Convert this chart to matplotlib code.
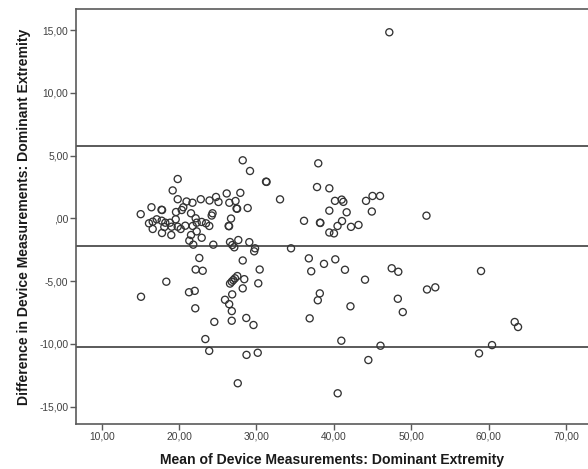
import matplotlib
matplotlib.use("Agg")
import matplotlib.pyplot as plt

plt.rcParams['font.family'] = ['Liberation Sans', 'DejaVu Sans']

# Mean of device measurements (x) and difference (y)
mean_vals = [
    28.22, 29.16, 31.23, 31.30, 19.82, 19.17, 26.15, 27.91, 33.04, 19.82,
    20.96, 21.73, 22.80, 23.93, 24.77, 25.09, 26.49, 27.29, 27.42, 27.50,
    28.86, 16.43, 17.73, 17.80, 15.04, 19.60, 20.34, 20.54, 21.54, 24.32,
    24.21, 26.71, 26.40, 26.46, 16.11, 16.59, 17.11, 17.75, 18.22, 18.82,
    19.56, 19.82, 20.80, 22.14, 22.27, 22.92, 23.48, 23.90, 21.76, 20.21,
    19.04, 18.09, 16.59, 17.79, 18.99, 21.54, 22.27, 22.92, 21.32, 21.83,
    24.42, 26.58, 26.87, 27.13, 27.65, 29.07, 29.81, 29.70, 34.46, 22.61,
    28.22, 22.14, 23.05, 30.41, 18.35, 15.08, 21.28, 22.02, 22.09, 27.52,
    27.22, 27.00, 26.80, 26.58, 28.42, 28.22, 30.23, 26.86, 25.93, 26.47,
    26.81, 24.55, 26.80, 28.68, 29.61, 23.39, 23.89, 28.71, 30.16, 27.58,
    47.16, 37.98, 37.82, 39.41, 40.14, 41.01, 41.22, 44.15, 44.99, 45.96,
    39.41, 41.65, 44.90, 51.96, 36.14, 38.20, 38.25, 41.05, 40.47, 42.21,
    43.18, 39.41, 40.01, 36.76, 37.07, 38.72, 40.18, 41.43, 44.02, 47.47,
    48.32, 59.01, 38.18, 37.92, 42.14, 36.87, 48.26, 48.90, 52.03, 53.10,
    63.36, 63.79, 40.96, 46.02, 44.45, 58.75, 60.43, 40.49,
]
diff_vals = [
    4.62, 3.77, 2.92, 2.90, 3.13, 2.22, 1.98, 2.03, 1.51, 1.52,
    1.34, 1.24, 1.52, 1.42, 1.70, 1.30, 1.24, 1.38, 0.78, 0.76,
    0.82, 0.88, 0.68, 0.66, 0.33, 0.50, 0.66, 0.88, 0.40, 0.40,
    0.22, -0.02, -0.61, -0.63, -0.40, -0.27, -0.08, -0.19, -0.35, -0.35,
    -0.08, -0.67, -0.59, 0.00, -0.35, -0.29, -0.40, -0.61, -0.61, -0.85,
    -0.67, -0.69, -0.85, -1.17, -1.33, -1.33, -1.04, -1.55, -1.78, -2.10,
    -2.10, -1.89, -2.13, -2.31, -1.73, -1.90, -2.39, -2.63, -2.39, -3.16,
    -3.36, -4.08, -4.18, -4.08, -5.05, -6.25, -5.89, -5.78, -7.17, -4.60,
    -4.78, -4.92, -5.05, -5.20, -4.85, -5.58, -5.18, -6.06, -6.49, -6.84,
    -7.39, -8.25, -8.16, -7.94, -8.50, -9.62, -10.56, -10.88, -10.71, -13.14,
    14.82, 4.38, 2.49, 2.39, 1.39, 1.49, 1.31, 1.39, 1.78, 1.78,
    0.61, 0.48, 0.54, 0.21, -0.20, -0.35, -0.37, -0.22, -0.61, -0.68,
    -0.53, -1.13, -1.20, -3.19, -4.22, -3.63, -3.27, -4.10, -4.89, -3.98,
    -4.26, -4.20, -5.98, -6.53, -7.01, -7.97, -6.41, -7.47, -5.67, -5.50,
    -8.26, -8.66, -9.75, -10.15, -11.29, -10.76, -10.10, -13.94,
]

# Reference lines: upper limit, mean difference, lower limit
ref_lines = [5.78, -2.21, -10.28]

x_ticks = [10, 20, 30, 40, 50, 60, 70]
x_tick_labels = ["10,00", "20,00", "30,00", "40,00", "50,00", "60,00", "70,00"]
y_ticks = [-15, -10, -5, 0, 5, 10, 15]
y_tick_labels = ["-15,00", "-10,00", "-5,00", ",00", "5,00", "10,00", "15,00"]

x_label = "Mean of Device Measurements: Dominant Extremity"
y_label = "Difference in Device Measurements: Dominant Extremity"

fig = plt.figure(figsize=(5.88, 4.69), dpi=100)
ax = fig.add_axes([76 / 588, 1 - 424.3 / 469, 1 - 76 / 588, (424.3 - 9.3) / 469])

for v in ref_lines:
    ax.axhline(v, color="#5a5a5a", linewidth=1.4, zorder=1)

ax.scatter(mean_vals, diff_vals, s=26, facecolors="none", edgecolors="#333333",
           linewidths=0.95, zorder=3)

ax.set_xlim(6.68, 72.83)
ax.set_ylim(-16.41, 16.65)

ax.set_xticks(x_ticks)
ax.set_xticklabels(x_tick_labels)
ax.set_yticks(y_ticks)
ax.set_yticklabels(y_tick_labels)

for side in ["left", "bottom", "top"]:
    ax.spines[side].set_color("#5a5a5a")
    ax.spines[side].set_linewidth(1.2)
ax.spines["right"].set_visible(False)

ax.tick_params(axis="both", direction="out", length=4, width=1, color="#5a5a5a",
               labelsize=7.4, labelcolor="#404040", pad=1.5)

ax.set_xlabel(x_label, fontsize=10.1, fontweight="bold", color="#1a1a1a", labelpad=8)
ax.set_ylabel(y_label, fontsize=10.1, fontweight="bold", color="#1a1a1a", labelpad=6)

fig.savefig("out.png", dpi=100)
